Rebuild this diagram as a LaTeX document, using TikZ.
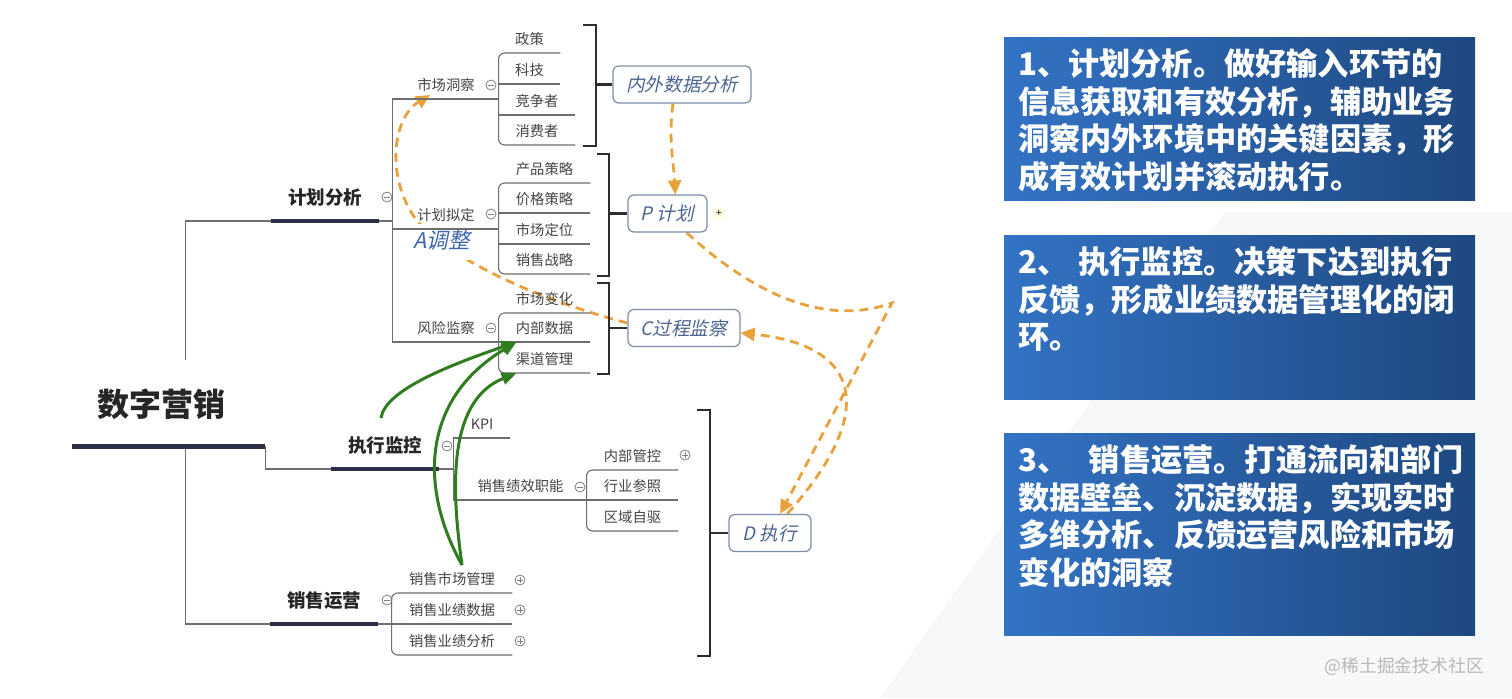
\documentclass[tikz,border=0pt]{standalone}
\usepackage{fontspec}
\setmainfont{Noto Sans CJK SC}
\newfontfamily\slantcjk{Noto Sans CJK SC}[FakeSlant=0.22]
\usetikzlibrary{arrows.meta,positioning,backgrounds}
\definecolor{ink}{HTML}{262626}
\definecolor{leafink}{HTML}{454545}
\definecolor{wiregray}{HTML}{6E6E6E}
\definecolor{navybar}{HTML}{2B2E45}
\definecolor{brack}{HTML}{2E2E2E}
\definecolor{cycedge}{HTML}{7D8CA6}
\definecolor{cycink}{HTML}{4B6591}
\definecolor{adjink}{HTML}{3D68B0}
\definecolor{amber}{HTML}{E9A23B}
\definecolor{grass}{HTML}{2F7D1F}
\definecolor{panelL}{HTML}{3373C4}
\definecolor{panelR}{HTML}{1E4880}
\definecolor{slide}{HTML}{F7F8FA}
\definecolor{markgray}{HTML}{808080}
\tikzset{
  rootbox/.style={anchor=south, minimum width=96.5pt, inner xsep=0pt, inner ysep=11.2pt, text depth=3.2pt,
                  text=ink, font=\fontsize{16}{16}\selectfont\bfseries},
  branchbox/.style={anchor=south, minimum width=54pt, inner xsep=0pt, inner ysep=6.2pt, text depth=1.85pt,
                  text=ink, font=\fontsize{9.25}{9.25}\selectfont\bfseries},
  topicbox/.style={anchor=south, inner xsep=0pt, inner ysep=2.4pt, text depth=1.43pt,
                  text=leafink, font=\fontsize{7.15}{7.15}\selectfont},
  cyclebox/.style={rectangle, rounded corners=3pt, draw=cycedge, fill=white, line width=0.6pt,
                  minimum height=18.5pt, inner xsep=2pt, text=cycink, font=\slantcjk\fontsize{9.3}{9.3}\selectfont},
  adjlbl/.style={anchor=base west, fill=white, inner xsep=1pt, inner ysep=4pt, text height=8pt, text depth=2pt,
                  text=adjink, font=\slantcjk\fontsize{10.8}{10.8}\selectfont},
  panel/.style={rectangle, minimum width=235.5pt, left color=panelL, right color=panelR, inner sep=0pt},
  notebox/.style={anchor=north west, inner sep=0pt, text width=232pt, align=left, text=white,
                  font=\fontsize{15.6}{18.8}\selectfont\bfseries},
  fold/.style={circle, draw=markgray, line width=0.4pt, minimum size=5pt, inner sep=0pt,
               path picture={\draw[markgray, line width=0.4pt] ([xshift=-1.6pt]path picture bounding box.center) -- ([xshift=1.6pt]path picture bounding box.center);}},
  unfold/.style={circle, draw=markgray, line width=0.4pt, minimum size=5pt, inner sep=0pt,
               path picture={\draw[markgray, line width=0.4pt] ([xshift=-1.6pt]path picture bounding box.center) -- ([xshift=1.6pt]path picture bounding box.center)
                             ([yshift=-1.6pt]path picture bounding box.center) -- ([yshift=1.6pt]path picture bounding box.center);}},
  wire/.style={draw=wiregray, line width=0.55pt},
  bar/.style={draw=navybar, line width=2pt},
  brk/.style={draw=brack, line width=1.4pt},
  flow/.style={-{Triangle[length=7.5pt,width=6pt]}, draw=grass, line width=1.5pt},
  backflow/.style={-{Triangle[length=7pt,width=6.5pt]}, draw=amber, line width=1.4pt, dash pattern=on 4.5pt off 3pt}
}
\begin{document}
\begin{tikzpicture}[x=0.5pt, y=-0.5pt]
 \useasboundingbox (0,0) rectangle (1512,698);
 % mind map
 \node[rootbox] (root) at (168.5,446) {\hspace*{-3.5pt}数字营销\hspace*{3.5pt}};
 \node[branchbox] (jhfx) at (325,221) {计划分析};
 \node[branchbox] (zxjk) at (385,469) {执行监控};
 \node[branchbox] (xsyy) at (324,624) {销售运营};
 \node[topicbox, minimum width=53pt] (sccc) at (446,99) {市场洞察};
 \node[topicbox, minimum width=53pt] (jhnd) at (446,229) {计划拟定};
 \node[topicbox, minimum width=53pt] (fxjc) at (446,342) {风险监察};
 \node[topicbox, minimum width=28pt] (kpi) at (482,438) {KPI};
 \node[topicbox, minimum width=66.5pt] (xsjx) at (520.5,500) {销售绩效职能};
 \node[topicbox, minimum width=60pt] (xsgl) at (452,593) {销售市场管理};
 \node[topicbox, minimum width=60pt] (xssj) at (452,624) {销售业绩数据};
 \node[topicbox, minimum width=60pt] (xsfx) at (452,655) {销售业绩分析};
 \node[topicbox, minimum width=30.5pt] (zc) at (529.5,53) {政策};
 \node[topicbox, minimum width=30.5pt] (kj) at (529.5,84) {科技};
 \node[topicbox, minimum width=38pt] (jzz) at (537,115) {竞争者};
 \node[topicbox, minimum width=38pt] (xfz) at (537,145) {消费者};
 \node[topicbox, minimum width=45.5pt] (cpcl) at (544.5,183) {产品策略};
 \node[topicbox, minimum width=45.5pt] (jgcl) at (544.5,213) {价格策略};
 \node[topicbox, minimum width=45.5pt] (scdw) at (544.5,244) {市场定位};
 \node[topicbox, minimum width=45.5pt] (xszl) at (544.5,274) {销售战略};
 \node[topicbox, minimum width=45.5pt] (scbh) at (544.5,313) {市场变化};
 \node[topicbox, minimum width=45.5pt] (nbsj) at (544.5,342) {内部数据};
 \node[topicbox, minimum width=45.5pt] (qdgl) at (544.5,373) {渠道管理};
 \node[topicbox, minimum width=45.5pt] (nbgk) at (632.5,470) {内部管控};
 \node[topicbox, minimum width=45.5pt] (hycz) at (632.5,500) {行业参照};
 \node[topicbox, minimum width=45.5pt] (qyzq) at (632.5,531) {区域自驱};
 \foreach \p/\n in {(387,197)/1,(491,85)/2,(491,214)/3,(491,328)/4,(447,446)/5,(580,487)/6,(387,600)/7}
   \node[fold] (fd\n) at \p {};
 \foreach \p/\n in {(685,455)/1,(520,580)/2,(520,610)/3,(520,641)/4}
   \node[unfold] (uf\n) at \p {};
 % tree lines
 \draw[wire] ([xshift=8.5pt,yshift=43pt]root.south) |- (jhfx.south west);
 \draw[wire] ([xshift=8.5pt]root.south) |- (xsyy.south west);
 \draw[wire] (root.south east) |- (zxjk.south west);
 \draw[wire] (jhfx.south east) -- (jhfx.south east -| sccc.south west);
 \draw[wire] (sccc.south east) -- (sccc.south west) -- (fxjc.south west) -- (fxjc.south east);
 \draw[wire] (jhnd.south west) -- (jhnd.south east);
 \draw[wire] (zxjk.south east) -- (zxjk.south east -| kpi.south west);
 \draw[wire] (kpi.south east) -- (kpi.south west) -- (xsjx.south west) -- (xsjx.south east);
 \draw[wire] (xsyy.south east) -- (xsyy.south east -| xsgl.south west);
 \begin{scope}[rounded corners=3pt]
  \draw[wire] (zc.south east) -- (zc.south west) -- (xfz.south west) -- (xfz.south east);
  \draw[wire] (cpcl.south east) -- (cpcl.south west) -- (xszl.south west) -- (xszl.south east);
  \draw[wire] (scbh.south east) -- (scbh.south west) -- (qdgl.south west) -- (qdgl.south east);
  \draw[wire] (nbgk.south east) -- (nbgk.south west) -- (qyzq.south west) -- (qyzq.south east);
  \draw[wire] (xsgl.south east) -- (xsgl.south west) -- (xsfx.south west) -- (xsfx.south east);
 \end{scope}
 \draw[wire] (kj.south west) -- (kj.south east) (jzz.south west) -- (jzz.south east);
 \draw[wire] (jgcl.south west) -- (jgcl.south east) (scdw.south west) -- (scdw.south east);
 \draw[wire] (nbsj.south west) -- (nbsj.south east) (hycz.south west) -- (hycz.south east);
 \draw[wire] (xssj.south west) -- (xssj.south east);
 \draw[bar, line width=2.5pt] (root.south west) -- (root.south east);
 \draw[bar] (jhfx.south west) -- (jhfx.south east);
 \draw[bar] (zxjk.south west) -- (zxjk.south east);
 \draw[bar] (xsyy.south west) -- (xsyy.south east);
 % PDCA boxes and brackets
 \node[cyclebox, minimum width=69pt] (nwsj) at (682,84.5) {内外数据分析};
 \node[cyclebox, minimum width=39.5pt] (pcal) at (667.5,213.5) {P 计划};
 \node[cyclebox, minimum width=56pt] (cpm) at (684,328) {C过程监察};
 \node[cyclebox, minimum width=41pt] (dex) at (770,533) {D 执行};
 \node[right=2.5pt of pcal, circle, fill=yellow!12, inner sep=0.6pt, font=\fontsize{5}{5}\selectfont] (pplus) {+};
 \coordinate (b1) at (596,84.5);
 \coordinate (b2) at (609,213.5);
 \coordinate (b3) at (609,328);
 \coordinate (b4) at (710,533);
 \draw[brk] (583,25) -- (596,25) -- (596,146) -- (583,146);
 \draw[brk] (597,154) -- (609,154) -- (609,276) -- (597,276);
 \draw[brk] (597,283) -- (609,283) -- (609,374) -- (597,374);
 \draw[brk] (697,410) -- (710,410) -- (710,656) -- (697,656);
 \draw[brk] (b1) -- (nwsj.west);
 \draw[brk] (b2) -- (pcal.west);
 \draw[brk] (b3) -- (cpm.west);
 \draw[brk] (b4) -- (dex.west);
 % right panels
 \node[panel, minimum height=81.5pt] (pan1) at (1239.5,118.5) {};
 \node[panel, minimum height=82pt] (pan2) at (1239.5,317) {};
 \node[panel, minimum height=101pt] (pan3) at (1239.5,534) {};
 \node[notebox] (note1) at ([xshift=7pt,yshift=-5.8pt]pan1.north west)
   {1、计划分析。做好输入环节的\\信息获取和有效分析，辅助业务\\洞察内外环境中的关键因素，形\\成有效计划并滚动执行。};
 \node[notebox] (note2) at ([xshift=7pt,yshift=-5.8pt]pan2.north west)
   {2、 执行监控。决策下达到执行\\反馈，形成业绩数据管理化的闭\\环。};
 \node[notebox] (note3) at ([xshift=7pt,yshift=-5.8pt]pan3.north west)
   {3、\ \ 销售运营。打通流向和部门\\数据壁垒、沉淀数据，实现实时\\多维分析、反馈运营风险和市场\\变化的洞察};
 \node[anchor=east, text=gray!55, font=\fontsize{8.9}{8.9}\selectfont] (mark) at (1491,666) {@稀土掘金技术社区};
 % PDCA loop, behind the map
 \begin{scope}[on background layer]
  \fill[white] (0,0) rectangle (1512,698);
  \fill[slide] (1225,212) -- (1512,212) -- (1512,698) -- (880,698) -- cycle;
  \coordinate (cusp) at (892,303);
  \draw[backflow] ([xshift=-4.5pt]nwsj.south) .. controls (668,140) and (674,165) .. (pcal.68);
  \draw[backflow] (pcal.-45) .. controls (760,300) and (830,325) .. (cusp) -- (dex.62);
  \draw[backflow] (dex.48) .. controls (880,410) and (860,345) .. (cpm.-5);
  \draw[backflow] (cpm.175) .. controls (540,300) and (455,262) .. (418,222)
     .. controls (385,180) and (392,118) .. ([xshift=-8pt,yshift=2pt]sccc.south);
  \node[adjlbl] (adj) at (411,248) {A调整};
 \end{scope}
 % feedback from execution
 \coordinate (gA) at (381,418);
 \coordinate (gB) at (462,565);
 \draw[flow] (gA) .. controls (385,390) and (450,365) .. ([xshift=9pt]nbsj.south west);
 \draw[flow] (gB) .. controls (420,490) and (420,400) .. ([xshift=9pt]nbsj.south west);
 \draw[flow] (gB) .. controls (450,480) and (450,400) .. ([xshift=9pt]qdgl.south west);
\end{tikzpicture}
\end{document}
